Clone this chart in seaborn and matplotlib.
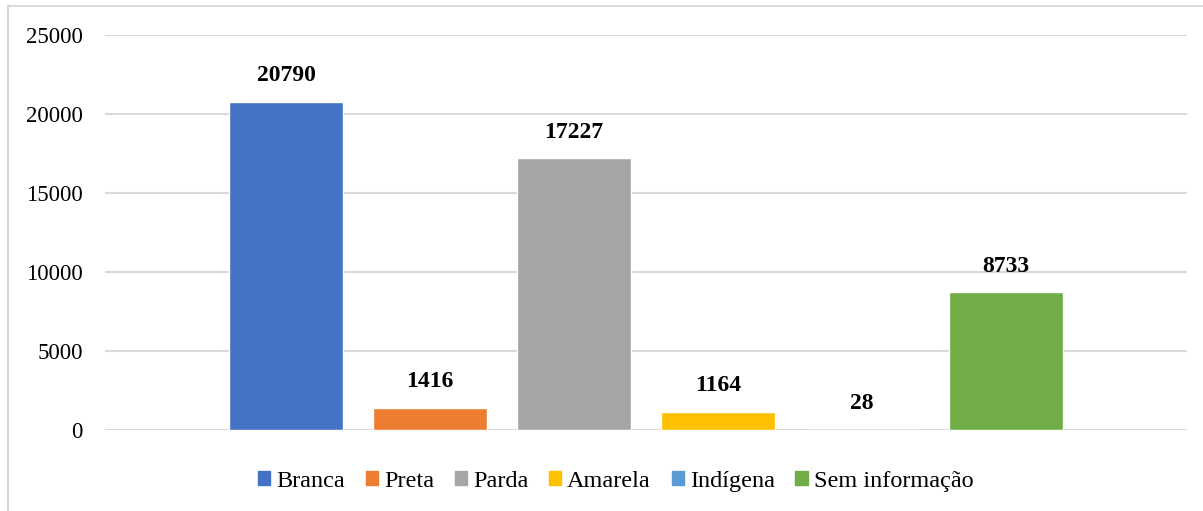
import pandas as pd
import matplotlib
matplotlib.use("Agg")
import matplotlib.pyplot as plt
import matplotlib.patches as mpatches
import seaborn as sns

# Data
categories = ['Branca', 'Preta', 'Parda', 'Amarela', 'Indígena', 'Sem informação']
values = [20790, 1416, 17227, 1164, 28, 8733]
colors = ['#4472C4', '#ED7D31', '#A5A5A5', '#FFC000', '#5B9BD5', '#70AD47']
y_ticks = [0, 5000, 10000, 15000, 20000, 25000]

df = pd.DataFrame({'Raça/cor': categories, 'Total': values})

sns.set_style("white")
plt.rcParams['font.family'] = ['Liberation Serif', 'DejaVu Serif']
plt.rcParams['text.color'] = 'black'
plt.rcParams['ytick.color'] = 'black'

fig = plt.figure(figsize=(12.03, 5.11), dpi=100)
ax = fig.add_axes([105 / 1203, 81 / 511, 1082 / 1203, 395 / 511])

sns.barplot(data=df, x='Raça/cor', y='Total', hue='Raça/cor', order=categories,
            hue_order=categories, palette=colors, width=0.79, saturation=1,
            legend=False, ax=ax)

# Value labels on top of bars
for c in ax.containers:
    ax.bar_label(c, fmt='%d', padding=11, fontsize=17, fontweight='bold', color='black')

ax.set_ylim(0, 25000)
ax.set_xlim(-1.257, 6.257)
ax.set_yticks(y_ticks)
ax.set_yticklabels([str(t) for t in y_ticks], fontsize=16.5)
ax.tick_params(axis='y', length=0, pad=16, labelcolor='black')
ax.set_xticks([])
ax.set_xlabel('')
ax.set_ylabel('')
ax.yaxis.grid(True, color='#d9d9d9', linewidth=1.5)
ax.set_axisbelow(True)
for s in ax.spines.values():
    s.set_visible(False)

# Legend
handles = [mpatches.Patch(color=col, label=cat) for cat, col in zip(categories, colors)]
ax.legend(handles=handles, loc='center', bbox_to_anchor=(0.472, -0.13), ncol=6,
          frameon=False, fontsize=17.5, handlelength=0.5, handleheight=0.5,
          handletextpad=0.25, columnspacing=0.85, labelcolor='black')

# Chart area border
fig.add_artist(mpatches.Rectangle((8 / 1203, -0.05), 1.2, (511 - 6) / 511 + 0.05,
                                  transform=fig.transFigure, fill=False,
                                  edgecolor='#d9d9d9', linewidth=1.5))

fig.savefig('out.png', dpi=100)
